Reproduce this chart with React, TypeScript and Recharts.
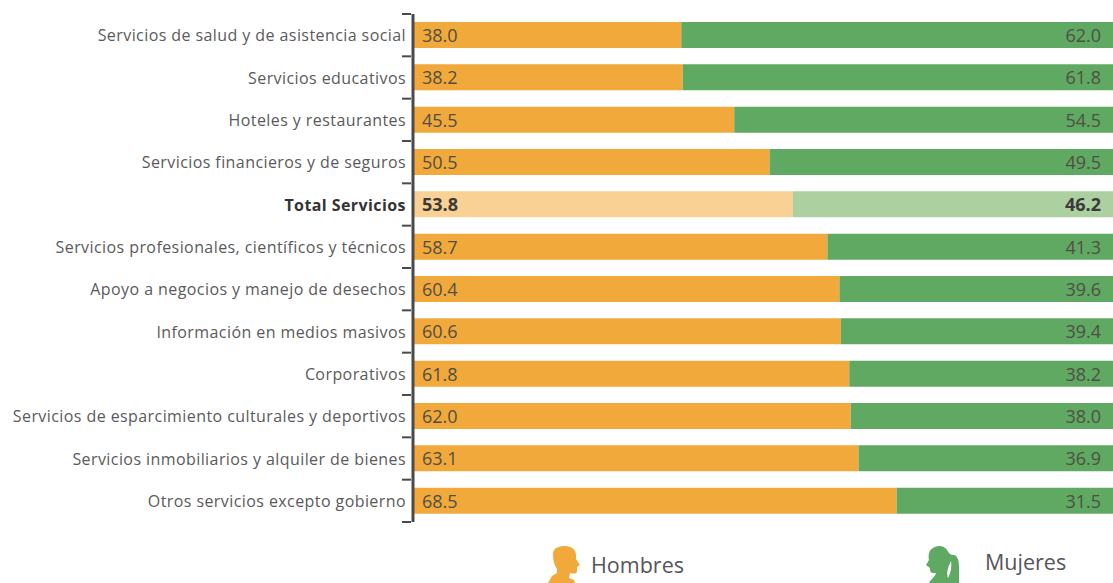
import React from 'react';
import { BarChart, Bar, Cell, LabelList, Legend, XAxis, YAxis } from 'recharts';

const categories = [
  'Servicios de salud y de asistencia social',
  'Servicios educativos',
  'Hoteles y restaurantes',
  'Servicios financieros y de seguros',
  'Total Servicios',
  'Servicios profesionales, científicos y técnicos',
  'Apoyo a negocios y manejo de desechos',
  'Información en medios masivos',
  'Corporativos',
  'Servicios de esparcimiento culturales y deportivos',
  'Servicios inmobiliarios y alquiler de bienes',
  'Otros servicios excepto gobierno',
];
const hombres = [38.0, 38.2, 45.5, 50.5, 53.8, 58.7, 60.4, 60.6, 61.8, 62.0, 63.1, 68.5];
const mujeres = [62.0, 61.8, 54.5, 49.5, 46.2, 41.3, 39.6, 39.4, 38.2, 38.0, 36.9, 31.5];

const TOTAL = 'Total Servicios';
const data = categories.map((name, i) => ({ name, hombres: hombres[i], mujeres: mujeres[i] }));

const ORANGE = '#f2a93b';
const GREEN = '#5fa963';
const ORANGE_LIGHT = '#fad194';
const GREEN_LIGHT = '#acd0a0';
const FONT = '"Open Sans", sans-serif';

const WIDTH = 1119;
const HEIGHT = 583;
const TOP = 14;
const BOTTOM = 61;
const AXIS_W = 413;
const BAND = (HEIGHT - TOP - BOTTOM) / categories.length;

// category label plus the bracket notch above it (and below the last row)
const BracketTick = ({ x, y, payload, index }: any) => {
  const isTotal = payload.value === TOTAL;
  return (
    <g>
      <line x1={x - 9} x2={x} y1={y - BAND / 2} y2={y - BAND / 2} stroke="#4a4a4a" strokeWidth={2} />
      {index === categories.length - 1 && (
        <line x1={x - 9} x2={x} y1={y + BAND / 2} y2={y + BAND / 2} stroke="#4a4a4a" strokeWidth={2} />
      )}
      <text
        x={x - 5}
        y={y}
        textAnchor="end"
        dominantBaseline="central"
        fontFamily={FONT}
        fontSize={16}
        letterSpacing={0.42}
        fontWeight={isTotal ? 700 : 400}
        fill={isTotal ? '#333333' : '#5a5a5c'}
      >
        {payload.value}
      </text>
    </g>
  );
};

const valueLabel = (side: 'left' | 'right') => (props: any) => {
  const { x, y, width, height, value, index } = props;
  const isTotal = categories[index] === TOTAL;
  return (
    <text
      x={side === 'left' ? x + 9 : x + width - 18}
      y={y + height / 2}
      textAnchor={side === 'left' ? 'start' : 'end'}
      dominantBaseline="central"
      fontFamily={FONT}
      fontSize={18}
      fontWeight={isTotal ? 700 : 400}
      fill={isTotal ? '#3a3a3a' : '#4f4f45'}
    >
      {Number(value).toFixed(1)}
    </text>
  );
};

const ManIcon = ({ color }: { color: string }) => (
  <svg width={38} height={38} viewBox="0 0 38 38" style={{ position: 'absolute', left: 547, top: 545 }}>
    <path
      fill={color}
      d="M6 9 C6 3 12 1 18 1 C25 1 29 5 29 10 L29 14 L33 20 L30 22 L30 26 C30 29 27 29 23 28 L22 33 L27 35 L28 38 L1 38 L5 31 L10 28 L10 24 C7 20 6 14 6 9 Z"
    />
  </svg>
);

const WomanIcon = ({ color }: { color: string }) => (
  <svg width={38} height={38} viewBox="0 0 38 38" style={{ position: 'absolute', left: 923, top: 545 }}>
    <path
      fill={color}
      d="M10 3 C14 0 21 0 24 5 C26 8 27 10 31 10 C35 11 36 16 36 22 L36 38 L6 38 C8 34 12 32 13 28 L10 28 C7 28 7 25 7 23 L3 20 L6 15 C5 10 6 5 10 3 Z"
    />
    <path fill="#ffffff" d="M28 16 C25 22 23 28 25 33 C27 29 29 24 28 16 Z" />
  </svg>
);

const LegendContent = ({ payload }: any) => {
  const man = payload?.find((p: any) => p.dataKey === 'hombres');
  const woman = payload?.find((p: any) => p.dataKey === 'mujeres');
  const textStyle: React.CSSProperties = {
    position: 'absolute',
    fontFamily: FONT,
    fontSize: 21.5,
    lineHeight: '26px',
    color: '#55555a',
    whiteSpace: 'nowrap',
  };
  return (
    <div>
      <ManIcon color={ORANGE} />
      <span style={{ ...textStyle, left: 591, top: 552 }}>{man?.value}</span>
      <WomanIcon color={GREEN} />
      <span style={{ ...textStyle, left: 985, top: 549 }}>{woman?.value}</span>
    </div>
  );
};

const App = () => (
  <div style={{ position: 'absolute', left: 0, top: 0, width: 1113, height: 583, overflow: 'hidden', background: '#fff' }}>
    <BarChart
      width={WIDTH}
      height={HEIGHT}
      data={data}
      layout="vertical"
      margin={{ top: TOP, right: 0, bottom: BOTTOM, left: 0 }}
      barCategoryGap={0}
    >
      <XAxis type="number" domain={[0, 100]} hide />
      <YAxis
        type="category"
        dataKey="name"
        width={AXIS_W}
        interval={0}
        tick={<BracketTick />}
        tickLine={false}
        tickSize={0}
        axisLine={{ stroke: '#4a4a4a', strokeWidth: 3 }}
      />
      <Legend
        content={<LegendContent />}
        wrapperStyle={{ position: 'absolute', left: 0, top: 0, width: 0, height: 0 }}
      />
      <Bar dataKey="hombres" name="Hombres" stackId="a" fill={ORANGE} barSize={26} isAnimationActive={false}>
        {categories.map((c) => (
          <Cell key={c} fill={c === TOTAL ? ORANGE_LIGHT : ORANGE} />
        ))}
        <LabelList dataKey="hombres" content={valueLabel('left')} />
      </Bar>
      <Bar dataKey="mujeres" name="Mujeres" stackId="a" fill={GREEN} barSize={26} isAnimationActive={false}>
        {categories.map((c) => (
          <Cell key={c} fill={c === TOTAL ? GREEN_LIGHT : GREEN} />
        ))}
        <LabelList dataKey="mujeres" content={valueLabel('right')} />
      </Bar>
    </BarChart>
  </div>
);

export default App;
